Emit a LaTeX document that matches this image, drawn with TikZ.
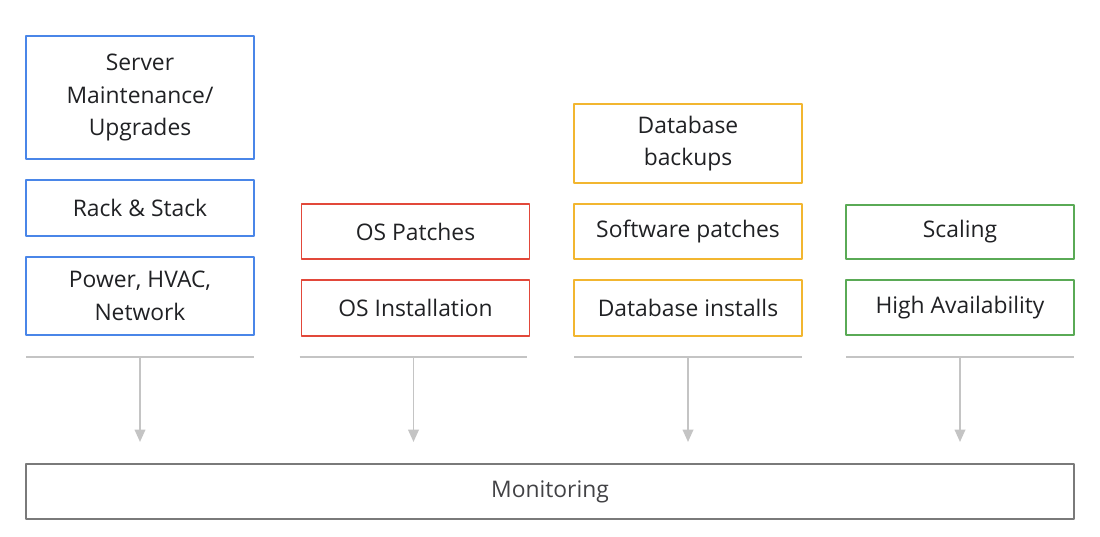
\documentclass[tikz,border=0pt]{standalone}
\usepackage{fontspec}
\setmainfont{Open Sans}
\usetikzlibrary{arrows.meta}
\definecolor{gblue}{HTML}{4A86E8}
\definecolor{gred}{HTML}{E2483A}
\definecolor{gyellow}{HTML}{F2B630}
\definecolor{ggreen}{HTML}{5AAA56}
\definecolor{gline}{HTML}{C4C4C4}
\definecolor{gframe}{HTML}{7A7A7A}
\definecolor{gtext}{HTML}{202124}
\tikzset{
	task/.style={draw=#1, line width=0.85pt, minimum width=4.56cm, align=center,
		text=gtext, inner sep=0pt, font=\fontsize{13pt}{18.6pt}\selectfont},
	sep/.style={gline, line width=1pt},
	feed/.style={gline, line width=1pt, -{Triangle[width=6pt,length=7pt]}}
}
\begin{document}
\begin{tikzpicture}[x=0.02cm, y=-0.02cm, line join=round]
			\useasboundingbox (0,0) rectangle (1100,537);
			%%Cot 1
			\node[task=gblue, minimum height=2.46cm] (server) at (140,97.5) {Server\\Maintenance/\\Upgrades};
			\node[task=gblue, minimum height=1.12cm] (rack) at (140,208) {Rack \& Stack};
			\node[task=gblue, minimum height=1.56cm] (power) at (140,296) {Power, HVAC,\\Network};
			%%Cot 2
			\node[task=gred, minimum height=1.1cm] (ospatch) at (415.5,231.5) {OS Patches};
			\node[task=gred, minimum height=1.12cm] (osinst) at (415.5,308) {OS Installation};
			%%Cot 3
			\node[task=gyellow, minimum height=1.58cm] (dbbackup) at (688,143.5) {Database\\backups};
			\node[task=gyellow, minimum height=1.1cm] (swpatch) at (688,231.5) {Software patches};
			\node[task=gyellow, minimum height=1.12cm] (dbinst) at (688,308) {Database installs};
			%%Cot 4
			\node[task=ggreen, minimum height=1.08cm] (scaling) at (960,232) {Scaling};
			\node[task=ggreen, minimum height=1.1cm] (ha) at (960,307.5) {High Availability};
			%%Monitoring
			\node[draw=gframe, line width=1.1pt, minimum width=20.96cm, minimum height=1.1cm,
				text=gtext!85, font=\fontsize{13pt}{15pt}\selectfont] (monitor) at (550,491.5) {Monitoring};
			%%Duong ngang va mui ten
			\foreach \name/\x in {a/140, b/413.5, c/688, d/960}{
				\coordinate (top\name) at (\x,357);
				\coordinate (end\name) at (\x,442);
				\draw[sep] ([xshift=-2.28cm]top\name) -- ([xshift=2.28cm]top\name);
				\draw[feed] (top\name) -- (end\name);
			}
		\end{tikzpicture}
\end{document}
